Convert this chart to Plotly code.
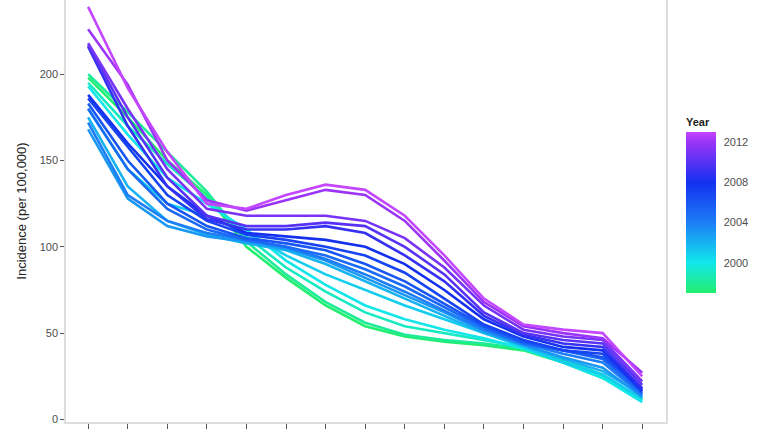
import plotly.graph_objects as go
from plotly.colors import sample_colorscale

# x positions (15 groups, tick labels not shown in the source)
groups = list(range(1, 16))
years = list(range(1997, 2014))

inc_1997 = [198, 175, 150, 130, 100, 82, 66, 54, 48, 45, 43, 40, 33, 24, 12]
inc_1998 = [200, 178, 155, 132, 103, 84, 68, 56, 49, 46, 44, 41, 34, 25, 12]
inc_1999 = [195, 170, 148, 128, 106, 88, 74, 62, 54, 50, 46, 42, 35, 26, 11]
inc_2000 = [193, 165, 140, 125, 110, 92, 78, 66, 58, 52, 47, 41, 33, 24, 10]
inc_2001 = [180, 145, 125, 118, 108, 95, 84, 75, 66, 58, 50, 42, 33, 26, 12]
inc_2002 = [175, 135, 115, 107, 102, 98, 90, 80, 70, 60, 50, 43, 35, 28, 14]
inc_2003 = [168, 128, 112, 106, 103, 99, 92, 82, 72, 62, 51, 43, 36, 30, 13]
inc_2004 = [172, 130, 115, 108, 104, 100, 93, 84, 74, 63, 52, 44, 38, 33, 14]
inc_2005 = [180, 145, 122, 110, 104, 100, 95, 87, 77, 65, 53, 44, 40, 35, 15]
inc_2006 = [183, 150, 125, 112, 105, 102, 98, 90, 80, 67, 54, 45, 40, 36, 18]
inc_2007 = [186, 158, 130, 115, 107, 104, 100, 95, 85, 70, 55, 46, 40, 38, 16]
inc_2008 = [188, 160, 135, 118, 108, 106, 104, 100, 90, 75, 58, 48, 42, 40, 17]
inc_2009 = [216, 170, 135, 116, 110, 110, 112, 108, 95, 80, 60, 49, 44, 42, 18]
inc_2010 = [217, 175, 140, 118, 112, 112, 114, 112, 100, 84, 62, 50, 46, 44, 20]
inc_2011 = [218, 180, 145, 122, 118, 118, 118, 115, 105, 88, 66, 52, 48, 46, 22]
inc_2012 = [226, 194, 150, 127, 121, 127, 133, 130, 115, 92, 68, 54, 50, 47, 27]
inc_2013 = [239, 192, 155, 125, 122, 130, 136, 133, 118, 95, 70, 55, 52, 50, 25]

series = [inc_1997, inc_1998, inc_1999, inc_2000, inc_2001, inc_2002, inc_2003,
          inc_2004, inc_2005, inc_2006, inc_2007, inc_2008, inc_2009, inc_2010,
          inc_2011, inc_2012, inc_2013]

cmin, cmax = 1997, 2013
scale = [
    [0.0, "#22EE6E"],
    [0.19, "#12E6EC"],
    [0.44, "#1C7CF6"],
    [0.69, "#1430F0"],
    [0.94, "#9C34F8"],
    [1.0, "#C446FF"],
]

fig = go.Figure()
for yr, vals in zip(years, series):
    col = sample_colorscale(scale, [(yr - cmin) / (cmax - cmin)])[0]
    fig.add_scatter(x=groups, y=vals, mode="lines", name=str(yr),
                    line=dict(color=col, width=2.6), showlegend=False,
                    hoverinfo="x+y+name")

# plot area in pixels
L, R, T, B = 66, 102, 0, 10
pw, ph = 768 - L - R, 432 - T - B

# invisible trace carrying the colour bar
fig.add_scatter(
    x=[None], y=[None], mode="markers", showlegend=False, hoverinfo="skip",
    marker=dict(
        color=[cmin], cmin=cmin, cmax=cmax, colorscale=scale, showscale=True,
        colorbar=dict(
            title=dict(text="<b>Year</b>", font=dict(size=11, color="#222")),
            tickvals=[2000, 2004, 2008, 2012],
            tickfont=dict(size=11, color="#4D4D4D"),
            ticks="outside", tickcolor="white", ticklen=6,
            thickness=30, len=178, lenmode="pixels",
            x=(686 - L) / pw, xref="paper", xanchor="left", xpad=0,
            y=1 - (204 - T) / ph, yanchor="middle", ypad=0,
            outlinewidth=0,
        ),
    ),
)

fig.update_layout(
    width=768, height=432,
    margin=dict(l=L, r=R, t=T, b=B),
    plot_bgcolor="white", paper_bgcolor="white",
    font=dict(family="Liberation Sans, Arial, sans-serif", color="#4D4D4D"),
    xaxis=dict(range=[0.44, 15.6], tickvals=groups, showticklabels=False,
               ticks="outside", ticklen=5, tickcolor="#555", showgrid=False,
               zeroline=False, showline=True, linecolor="#DDDDDD", linewidth=1.5),
    yaxis=dict(range=[-1.5, 243], tickvals=[0, 50, 100, 150, 200],
               ticks="outside", ticklen=4, tickcolor="#555",
               tickfont=dict(size=11, color="#4D4D4D"), showgrid=False,
               zeroline=False, showline=True, mirror=True,
               linecolor="#DDDDDD", linewidth=1.5,
               title=dict(text="Incidence (per 100,000)",
                          font=dict(size=13, color="#222"), standoff=10)),
)

fig.write_html("out.html", config={"displayModeBar": False},
               post_script="document.body.style.margin='0px';")
